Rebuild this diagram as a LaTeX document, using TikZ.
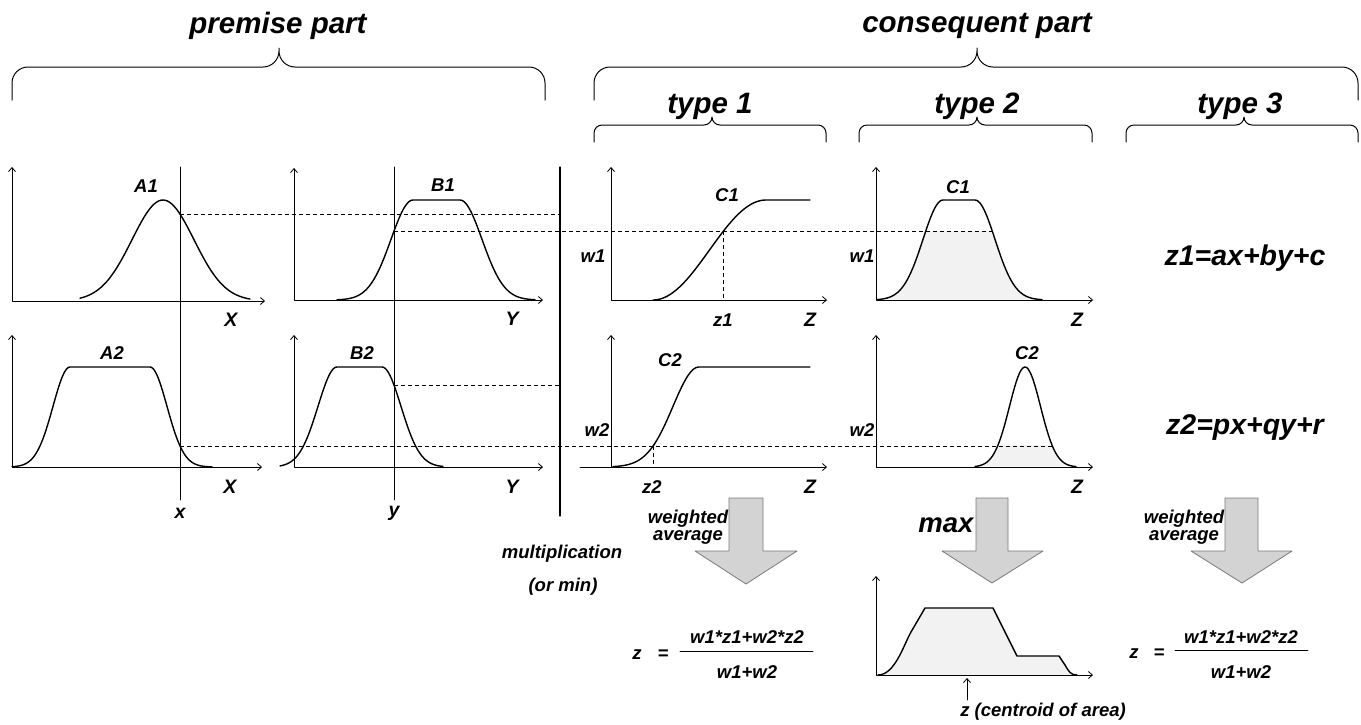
\documentclass[tikz,border=0pt]{standalone}
\usepackage{fontspec}
\setmainfont{Liberation Sans}
\usetikzlibrary{arrows.meta}

\definecolor{arrowfill}{HTML}{D3D3D3}
\definecolor{arrowedge}{HTML}{7A7A7A}
\definecolor{areafill}{HTML}{F2F2F2}

\newcommand\headfont{\fontsize{29.5}{34}\selectfont\bfseries\itshape}
\newcommand\eqfont{\fontsize{28.5}{33}\selectfont\bfseries\itshape}
\newcommand\axfont{\fontsize{19.5}{22}\selectfont\bfseries\itshape}
\newcommand\labfont{\fontsize{18.5}{21}\selectfont\bfseries\itshape}

% curly brace: x-left, x-right, x-tip, y-ends, y-bar, y-tip, bend radius
\newcommand\curlybrace[7]{%
  \draw[bracestroke] (#1,#4) -- (#1,{#5+#7})
    .. controls (#1,{#5+0.45*#7}) and ({#1+0.45*#7},#5) .. ({#1+#7},#5)
    -- ({#3-#7},#5)
    .. controls ({#3-0.45*#7},#5) and (#3,{#5-0.45*#7}) .. (#3,{#5-#7})
    -- (#3,#6) -- (#3,{#5-#7})
    .. controls (#3,{#5-0.45*#7}) and ({#3+0.45*#7},#5) .. ({#3+#7},#5)
    -- ({#2-#7},#5)
    .. controls ({#2-0.45*#7},#5) and (#2,{#5+0.45*#7}) .. (#2,{#5+#7})
    -- (#2,#4);}

\begin{document}
\begin{tikzpicture}[x=1pt,y=-1pt,line join=round,line cap=round,
  declare function={g(\t)=exp(-0.5*\t*\t);},
  every node/.style={inner sep=0pt,font=\labfont},
  bracestroke/.style={line width=1pt},
  axes/.style={line width=0.8pt,{Straight Barb[length=4pt,width=7pt]}-{Straight Barb[length=4pt,width=7pt]}},
  oneaxis/.style={line width=0.8pt,-{Straight Barb[length=4pt,width=7pt]}},
  mf/.style={line width=1.4pt},
  level/.style={dash pattern=on 4pt off 3pt,line width=0.7pt,line cap=butt},
  cutline/.style={line width=0.9pt},
  blockarrow/.style={fill=arrowfill,draw=arrowedge,line width=0.8pt},
  area/.style={fill=areafill},
  head/.style={font=\headfont},
  eq/.style={font=\eqfont},
  axlab/.style={font=\axfont}]

\useasboundingbox (0,0) rectangle (1361,724);

% firing levels
\pgfmathsetmacro\yAa{301-101*g((180-163)/31)}
\pgfmathsetmacro\wone{g((413-394)/22)}
\pgfmathsetmacro\yBa{300-100*\wone}
\pgfmathsetmacro\wtwo{g((180-150)/17)}
\pgfmathsetmacro\yAb{467-100*\wtwo}
\pgfmathsetmacro\yBb{467-100*g((394-382)/19)}
\pgfmathsetmacro\zone{653+0.62778*acos(1-2*\wone)}
\pgfmathsetmacro\ztwo{699-26*sqrt(-2*ln(\wtwo))}
\pgfmathsetmacro\rone{975+20*sqrt(-2*ln(\wone))}
\pgfmathsetmacro\rtwo{1025+15.5*sqrt(-2*ln(\wtwo))}

% headings and braces
\node[head] (tprem) at (278,26) {premise part};
\node[head] (tcons) at (977,26) {consequent part};
\node[head] (tty1) at (710,106) {type 1};
\node[head] (tty2) at (977,106) {type 2};
\node[head] (tty3) at (1240,106) {type 3};
\curlybrace{12}{545}{279}{100}{67}{48}{16}
\curlybrace{594}{1358}{977}{100}{67}{48}{16}
\curlybrace{594}{826}{712}{142}{125}{117}{8}
\curlybrace{859}{1092}{977}{142}{125}{117}{8}
\curlybrace{1126}{1358}{1244}{142}{125}{117}{8}

% ---------- premise part ----------
\draw[axes] (12,167) |- (265,301);
\draw[axes] (294,168) |- (543,300);
\draw[axes] (12,335) |- (262,467);
\draw[axes] (294,335) |- (543,467);

% A1
\draw[mf] plot[domain=80:250,samples=70] (\x,{301-101*g((\x-163)/31)});
% B1
\draw[mf] plot[domain=337:413,samples=40] (\x,{300-100*g((\x-413)/22)})
  -- (460,200) -- plot[domain=460:535,samples=40] (\x,{300-100*g((\x-460)/22)});
% A2
\draw[mf] plot[domain=12:70,samples=40] (\x,{467-100*g((\x-70)/17)})
  -- (150,367) -- plot[domain=150:212,samples=40] (\x,{467-100*g((\x-150)/17)});
% B2
\draw[mf] plot[domain=280:337,samples=40] (\x,{467-100*g((\x-337)/19)})
  -- (382,367) -- plot[domain=382:443,samples=40] (\x,{467-100*g((\x-382)/19)});

\node (lA1) at (146,186) {A1};
\node (lB1) at (443,185) {B1};
\node (lA2) at (112,353) {A2};
\node (lB2) at (362,353) {B2};
\node[axlab] (lX1) at (231,320) {X};
\node[axlab] (lY1) at (512,319) {Y};
\node[axlab] (lX2) at (230,487) {X};
\node[axlab] (lY2) at (512,487) {Y};

% input values
\coordinate (xtop) at (180,167);
\coordinate (xbot) at (180,500);
\coordinate (ytop) at (394,167);
\coordinate (ybot) at (394,500);
\draw[cutline] (xtop) -- (xbot);
\draw[cutline] (ytop) -- (ybot);
\node[axlab] (lx) at (180,513) {x};
\node[axlab] (ly) at (394,513) {y};

% separator between premise and consequent
\coordinate (septop) at (560,167);
\coordinate (sepbot) at (560,516);
\draw[line width=1.3pt] (septop) -- (sepbot);

% membership degrees carried across
\coordinate (pA1) at (180,\yAa);
\coordinate (eA1) at (560,\yAa);
\coordinate (pB1) at (394,\yBa);
\coordinate (eB1) at (\rone,\yBa);
\coordinate (pB2) at (394,\yBb);
\coordinate (eB2) at (560,\yBb);
\coordinate (pA2) at (180,\yAb);
\coordinate (eA2) at (\rtwo,\yAb);

% ---------- consequent, type 2 shaded areas ----------
\begin{scope}
  \clip (876,\yBa) rectangle (1093,300);
  \fill[area] plot[domain=877:943,samples=40] (\x,{300-100*g((\x-943)/20)})
    -- (975,200) -- plot[domain=975:1042,samples=40] (\x,{300-100*g((\x-975)/20)}) -- cycle;
\end{scope}
\begin{scope}
  \clip (876,\yAb) rectangle (1093,467);
  \fill[area] plot[domain=975:1076,samples=60] (\x,{467-100*g((\x-1025)/15.5)}) -- cycle;
\end{scope}

\draw[level] (pA1) -- (eA1);
\draw[level] (pB1) -- (eB1);
\draw[level] (pB2) -- (eB2);
\draw[level] (pA2) -- (eA2);

% ---------- type 1 ----------
\draw[axes] (611,167) |- (827,300);
\draw[oneaxis] (611,467) -- (611,335);
\draw[oneaxis] (580,467) -- (827,467);
\draw[mf] plot[domain=653:766,samples=50] (\x,{300-50*(1-cos(1.59292*(\x-653)))}) -- (810,200);
\draw[mf] plot[domain=613:699,samples=50] (\x,{467-100*g((\x-699)/26)}) -- (810,367);
\coordinate (z1top) at (\zone,\yBa);
\coordinate (z1bot) at (\zone,300);
\coordinate (z2top) at (\ztwo,\yAb);
\coordinate (z2bot) at (\ztwo,467);
\draw[level] (z1top) -- (z1bot);
\draw[level] (z2top) -- (z2bot);

\node (lw1a) at (593,256) {w1};
\node (lC1a) at (727,195) {C1};
\node (lz1) at (723,320) {z1};
\node[axlab] (lZ1a) at (810,320) {Z};
\node (lw2a) at (597,430) {w2};
\node (lC2a) at (670,360) {C2};
\node (lz2) at (652,487) {z2};
\node[axlab] (lZ2a) at (810,487) {Z};

% ---------- type 2 ----------
\draw[axes] (876,167) |- (1093,300);
\draw[axes] (876,335) |- (1093,467);
\draw[mf] plot[domain=877:943,samples=40] (\x,{300-100*g((\x-943)/20)})
  -- (975,200) -- plot[domain=975:1042,samples=40] (\x,{300-100*g((\x-975)/20)});
\draw[mf] plot[domain=975:1076,samples=60] (\x,{467-100*g((\x-1025)/15.5)});

\node (lw1b) at (862,256) {w1};
\node (lC1b) at (958,187) {C1};
\node[axlab] (lZ1b) at (1077,320) {Z};
\node (lw2b) at (862,430) {w2};
\node (lC2b) at (1027,353) {C2};
\node[axlab] (lZ2b) at (1077,487) {Z};

% ---------- type 3 ----------
\node[eq] (eqz1) at (1245,258) {z1=ax+by+c};
\node[eq] (eqz2) at (1245,427) {z2=px+qy+r};

% ---------- aggregation arrows ----------
\draw[blockarrow] (729,498) -- (763,498) -- (763,551) -- (797,551) -- (746,584)
  -- (695,551) -- (729,551) -- cycle;
\draw[blockarrow] (976,498) -- (1008,498) -- (1008,551) -- (1043,551) -- (992,583)
  -- (942,551) -- (976,551) -- cycle;
\draw[blockarrow] (1225,498) -- (1258,498) -- (1258,551) -- (1292,551) -- (1242,583)
  -- (1191,551) -- (1225,551) -- cycle;

\node[align=center,font=\fontsize{18.5}{17}\selectfont\bfseries\itshape] (wavg1) at (688,527) {weighted\\average};
\node[align=center,font=\fontsize{18.5}{17}\selectfont\bfseries\itshape] (wavg3) at (1184,527) {weighted\\average};
\node[eq,font=\fontsize{27.5}{32}\selectfont\bfseries\itshape] (lmax) at (946,525) {max};
\node (lmult) at (562,554) {multiplication};
\node (lormin) at (563,587) {(or min)};

% weighted average formulas
\node (f1z) at (637,655) {z};
\node (f1eq) at (663,655) {=};
\coordinate (f1a) at (680,651);
\coordinate (f1b) at (813,651);
\draw[line width=0.9pt] (f1a) -- (f1b);
\node (f1num) at (747,637) {w1*z1+w2*z2};
\node (f1den) at (747,672) {w1+w2};

\node (f2z) at (1134,654) {z};
\node (f2eq) at (1159,654) {=};
\coordinate (f2a) at (1175,650);
\coordinate (f2b) at (1308,650);
\draw[line width=0.9pt] (f2a) -- (f2b);
\node (f2num) at (1241,637) {w1*z1+w2*z2};
\node (f2den) at (1241,672) {w1+w2};

% aggregated output set with centroid
\fill[area] (878,675) .. controls (895,675) and (904,644) .. (911,632) -- (925,608)
  -- (993,608) -- (1017,656) -- (1059,656) -- (1065,665)
  .. controls (1069,672) and (1071,675) .. (1077,675) -- cycle;
\draw[axes] (876,576) |- (1093,675);
\draw[mf] (878,675) .. controls (895,675) and (904,644) .. (911,632) -- (925,608)
  -- (993,608) -- (1017,656) -- (1059,656) -- (1065,665)
  .. controls (1069,672) and (1071,675) .. (1077,675);
\coordinate (cbot) at (967,700);
\coordinate (ctop) at (967,678);
\draw[line width=0.8pt,-{Straight Barb[length=4pt,width=7pt]}] (cbot) -- (ctop);
\node (lcent) at (1043,712) {z (centroid of area)};

\end{tikzpicture}
\end{document}
